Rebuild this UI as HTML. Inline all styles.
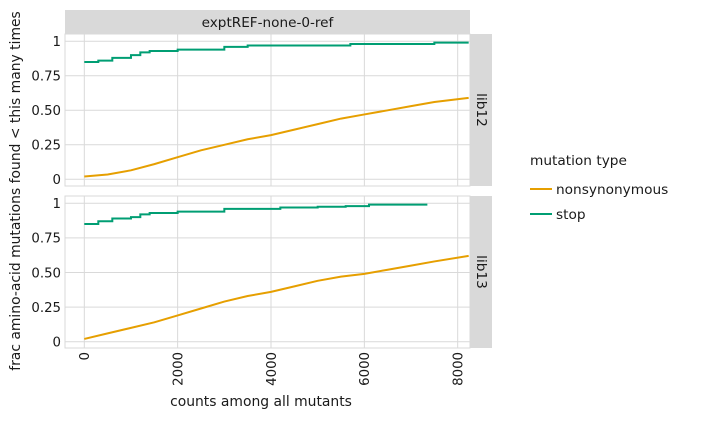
<!DOCTYPE html>
<html><head><meta charset="utf-8"><style>
body{margin:0;background:#fff}
text{font-family:"DejaVu Sans","Liberation Sans",sans-serif;fill:#1a1a1a}
</style></head><body>
<svg id="chart" width="707" height="418" xmlns="http://www.w3.org/2000/svg">
<rect x="65" y="10" width="405" height="24" fill="#d9d9d9"/>
<text x="267.5" y="27" text-anchor="middle" font-size="13.6">exptREF-none-0-ref</text>
<g id="panels"></g>
<text transform="translate(20,191) rotate(-90)" text-anchor="middle" font-size="13.9">frac amino-acid mutations found &lt; this many times</text>
<text x="261" y="406" text-anchor="middle" font-size="13.9">counts among all mutants</text>
<g>
<text x="530" y="165" font-size="13.7">mutation type</text>
<line x1="530" y1="189" x2="552" y2="189" stroke="#E69F00" stroke-width="2"/>
<text x="556" y="194" font-size="13.7">nonsynonymous</text>
<line x1="530" y1="214" x2="552" y2="214" stroke="#009E73" stroke-width="2"/>
<text x="556" y="219" font-size="13.7">stop</text>
</g>
</svg>
<script>
const xTicks=[0,2000,4000,6000,8000];
const yTicks=[0,0.25,0.5,0.75,1];
const yTickLabels=["0","0.25","0.50","0.75","1"];
const libs=["lib12","lib13"];
const nsX12=[0,500,1000,1500,2000,2500,3000,3500,4000,4500,5000,5500,6000,6500,7000,7500,8235];
const nsY12=[0.02,0.035,0.065,0.11,0.16,0.21,0.25,0.29,0.32,0.36,0.40,0.44,0.47,0.50,0.53,0.56,0.59];
const stX12=[0,300,600,1000,1200,1400,2000,3000,3500,5700,7500,8235];
const stY12=[0.85,0.86,0.88,0.90,0.92,0.93,0.94,0.96,0.97,0.98,0.99,0.99];
const nsX13=[0,500,1000,1500,2000,2500,3000,3500,4000,4500,5000,5500,6000,6500,7000,7500,8235];
const nsY13=[0.02,0.06,0.10,0.14,0.19,0.24,0.29,0.33,0.36,0.40,0.44,0.47,0.49,0.52,0.55,0.58,0.62];
const stX13=[0,300,600,1000,1200,1400,2000,3000,4200,5000,5600,6100,7350];
const stY13=[0.85,0.87,0.89,0.90,0.92,0.93,0.94,0.96,0.97,0.975,0.98,0.99,0.99];
const NS="http://www.w3.org/2000/svg";
const g=document.getElementById('panels');
const xs=v=>84.3+v*(373.4/8000);
function mk(t,a,p){const e=document.createElementNS(NS,t);for(const k in a)e.setAttribute(k,a[k]);(p||g).appendChild(e);return e;}
const panels=[{top:34,bot:186,y1:41.3,y0:179.3,ns:[nsX12,nsY12],st:[stX12,stY12]},{top:196,bot:348,y1:203.3,y0:341.7,ns:[nsX13,nsY13],st:[stX13,stY13]}];
panels.forEach((P,i)=>{
 const ys=v=>P.y0+(P.y1-P.y0)*v;
 const r=mk('rect',{x:65,y:P.top,width:405,height:P.bot-P.top,fill:'#fff',stroke:'#d9d9d9'});
 
 
 xTicks.forEach(t=>{const l=mk('line',{x1:xs(t),x2:xs(t),y1:P.top,y2:P.bot,stroke:'#d9d9d9'});
  
  });
 yTicks.forEach((t,j)=>{const l=mk('line',{x1:65,x2:470,y1:ys(t),y2:ys(t),stroke:'#d9d9d9'});
  
  
  const tx=mk('text',{x:61,y:ys(t)+4.8,'text-anchor':'end','font-size':'13.3'});tx.textContent=yTickLabels[j];
  
  });
 const s=mk('rect',{x:470,y:P.top,width:22,height:P.bot-P.top,fill:'#d9d9d9'});
 
 
 const st=mk('text',{transform:`translate(477,${(P.top+P.bot)/2}) rotate(90)`,'text-anchor':'middle','font-size':'13.7'});st.textContent=libs[i];
 
 
 const ns=mk('polyline',{points:P.ns[0].map((x,k)=>xs(x)+','+ys(P.ns[1][k])).join(' '),fill:'none',stroke:'#E69F00','stroke-width':2});
 
 
 let pts=[];P.st[0].forEach((x,k)=>{if(k>0)pts.push(xs(x)+','+ys(P.st[1][k-1]));pts.push(xs(x)+','+ys(P.st[1][k]));});
 const sl=mk('polyline',{points:pts.join(' '),fill:'none',stroke:'#009E73','stroke-width':2});
 
 
});
xTicks.forEach(t=>{const tx=mk('text',{transform:`translate(${xs(t)+4.8},352) rotate(-90)`,'text-anchor':'end','font-size':'13.3'});tx.textContent=t;
 
 });
</script>
</body></html>
